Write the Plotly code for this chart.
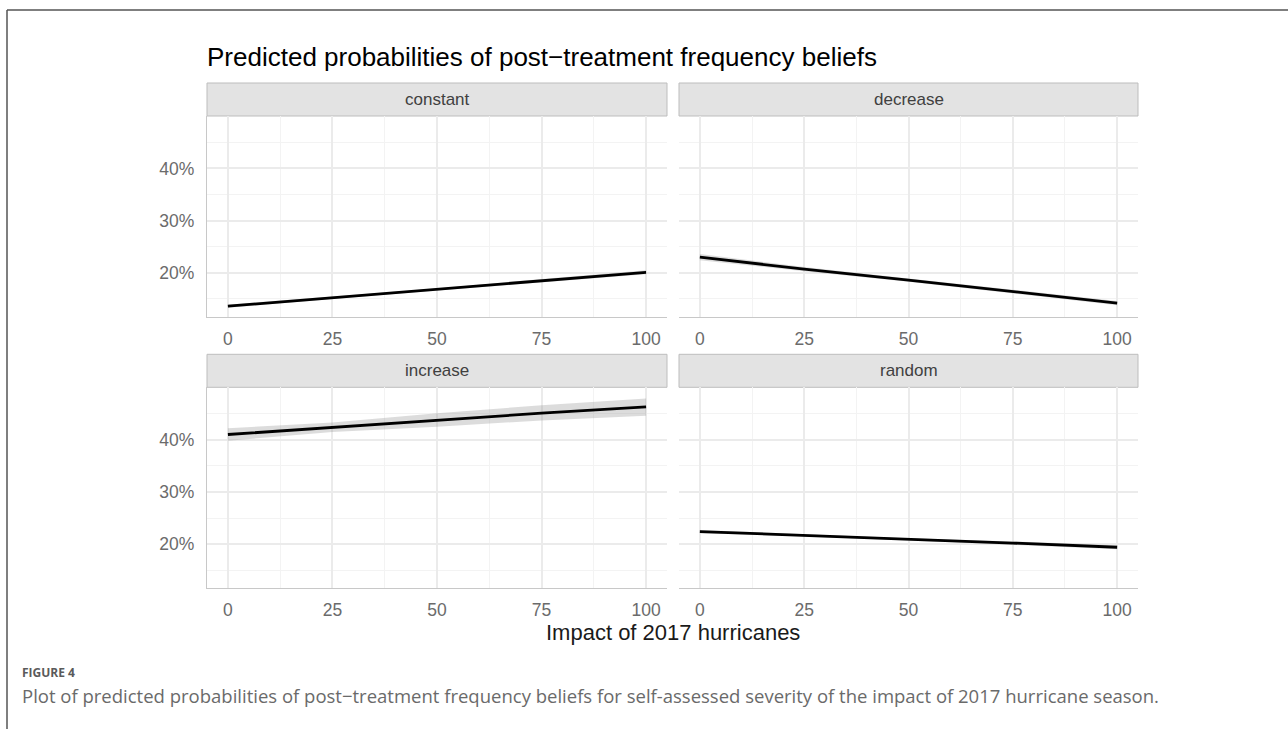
import plotly.graph_objects as go

# Impact of the 2017 hurricanes (self-assessed severity, 0-100)
impact = [0, 25, 50, 75, 100]

panels = ["constant", "decrease", "increase", "random"]

# Predicted probabilities (fit) with lower / upper confidence bounds
fit = {
    "constant": [0.136, 0.152, 0.168, 0.185, 0.201],
    "decrease": [0.230, 0.207, 0.186, 0.164, 0.142],
    "increase": [0.410, 0.424, 0.438, 0.451, 0.463],
    "random":   [0.224, 0.217, 0.209, 0.202, 0.194],
}
lower = {
    "constant": [0.133, 0.150, 0.166, 0.182, 0.197],
    "decrease": [0.224, 0.203, 0.183, 0.160, 0.138],
    "increase": [0.398, 0.415, 0.425, 0.437, 0.446],
    "random":   [0.221, 0.215, 0.207, 0.199, 0.190],
}
upper = {
    "constant": [0.139, 0.154, 0.170, 0.188, 0.205],
    "decrease": [0.236, 0.211, 0.189, 0.168, 0.146],
    "increase": [0.422, 0.433, 0.451, 0.466, 0.479],
    "random":   [0.227, 0.219, 0.211, 0.205, 0.198],
}

x_ticks = [0, 25, 50, 75, 100]
x_minor = [12.5, 37.5, 62.5, 87.5]
y_ticks = [0.2, 0.3, 0.4]
y_tick_text = ["20%", "30%", "40%"]
y_minor = [0.15, 0.25, 0.35, 0.45]

title = "Predicted probabilities of post\u2212treatment frequency beliefs"
x_title = "Impact of 2017 hurricanes"
fig_label = "FIGURE 4"
caption = ("Plot of predicted probabilities of post\u2212treatment frequency beliefs "
           "for self-assessed severity of the impact of 2017 hurricane season.")

W, H = 1288, 729
FONT = "Liberation Sans, Arial, Helvetica, sans-serif"


def px_x(v):
    return v / W


def px_y(v):
    return 1 - v / H


# panel boxes in pixels: (left, right, top, bottom)
boxes = {
    "constant": (207, 667, 116, 317),
    "decrease": (679, 1138, 116, 317),
    "increase": (207, 667, 387.3, 588.3),
    "random":   (679, 1138, 387.3, 588.3),
}
strip_h = 33

fig = go.Figure()
layout = dict(
    width=W, height=H, margin=dict(l=0, r=0, t=0, b=0),
    paper_bgcolor="white", plot_bgcolor="white", showlegend=False,
    shapes=[], annotations=[],
)

for i, name in enumerate(panels, start=1):
    l, r, t, b = boxes[name]
    xa = "x" if i == 1 else f"x{i}"
    ya = "y" if i == 1 else f"y{i}"
    left_col = name in ("constant", "increase")

    fig.add_trace(go.Scatter(
        x=impact + impact[::-1], y=upper[name] + lower[name][::-1],
        fill="toself", fillcolor="rgba(150,150,150,0.33)",
        line=dict(width=0), mode="lines", hoverinfo="skip",
        xaxis=xa, yaxis=ya,
    ))
    fig.add_trace(go.Scatter(
        x=impact, y=fit[name], mode="lines",
        line=dict(color="black", width=2.8),
        xaxis=xa, yaxis=ya,
    ))

    layout[f"xaxis{'' if i == 1 else i}"] = dict(
        domain=[px_x(l), px_x(r)], anchor=ya, range=[-5, 105],
        tickvals=x_ticks, ticks="", showline=True, linecolor="#c8c8c8",
        linewidth=1.2, showgrid=True, gridcolor="#ebebeb", gridwidth=1.5,
        zeroline=False,
        minor=dict(tickvals=x_minor, showgrid=True, gridcolor="#f3f3f3",
                   gridwidth=1, ticks=""),
        tickfont=dict(family=FONT, size=17.5, color="#6b6b6b"),
        ticklabelstandoff=6,
    )
    layout[f"yaxis{'' if i == 1 else i}"] = dict(
        domain=[px_y(b), px_y(t)], anchor=xa, range=[0.1153, 0.5005],
        tickvals=y_ticks, ticktext=y_tick_text, ticks="",
        showticklabels=left_col, showline=left_col, linecolor="#c8c8c8",
        linewidth=1.2, showgrid=True, gridcolor="#ebebeb", gridwidth=1.5,
        zeroline=False,
        minor=dict(tickvals=y_minor, showgrid=True, gridcolor="#f3f3f3",
                   gridwidth=1, ticks=""),
        tickfont=dict(family=FONT, size=17.5, color="#6b6b6b"),
        ticklabelstandoff=8,
    )

    # facet strip
    layout["shapes"].append(dict(
        type="rect", xref="paper", yref="paper",
        x0=px_x(l), x1=px_x(r), y0=px_y(t), y1=px_y(t - strip_h),
        fillcolor="#e3e3e3", line=dict(color="#bdbdbd", width=1), layer="below",
    ))
    layout["annotations"].append(dict(
        text=name, xref="paper", yref="paper",
        x=px_x((l + r) / 2), y=px_y(t - strip_h / 2),
        xanchor="center", yanchor="middle", showarrow=False,
        font=dict(family=FONT, size=17, color="#404040"),
    ))

# page frame (top and left edges)
layout["shapes"].append(dict(
    type="line", xref="paper", yref="paper",
    x0=px_x(7), x1=1, y0=px_y(10), y1=px_y(10),
    line=dict(color="#555555", width=1.5),
))
layout["shapes"].append(dict(
    type="line", xref="paper", yref="paper",
    x0=px_x(7), x1=px_x(7), y0=px_y(10), y1=0,
    line=dict(color="#555555", width=1.5),
))

layout["annotations"] += [
    dict(text=title, xref="paper", yref="paper", x=px_x(205), y=px_y(57),
         xanchor="left", yanchor="middle", showarrow=False,
         font=dict(family=FONT, size=26, color="black")),
    dict(text=x_title, xref="paper", yref="paper", x=px_x(672.5), y=px_y(632),
         xanchor="center", yanchor="middle", showarrow=False,
         font=dict(family=FONT, size=22, color="#1a1a1a")),
    dict(text=f"<b>{fig_label}</b>", xref="paper", yref="paper", x=px_x(20), y=px_y(672),
         xanchor="left", yanchor="middle", showarrow=False,
         font=dict(family="Open Sans, sans-serif", size=12, color="#5a5a5a")),
    dict(text=caption, xref="paper", yref="paper", x=px_x(20), y=px_y(695),
         xanchor="left", yanchor="middle", showarrow=False,
         font=dict(family="Open Sans, sans-serif", size=18.5, color="#6a6a6a")),
]

fig.update_layout(**layout)
fig.write_html("out.html")
